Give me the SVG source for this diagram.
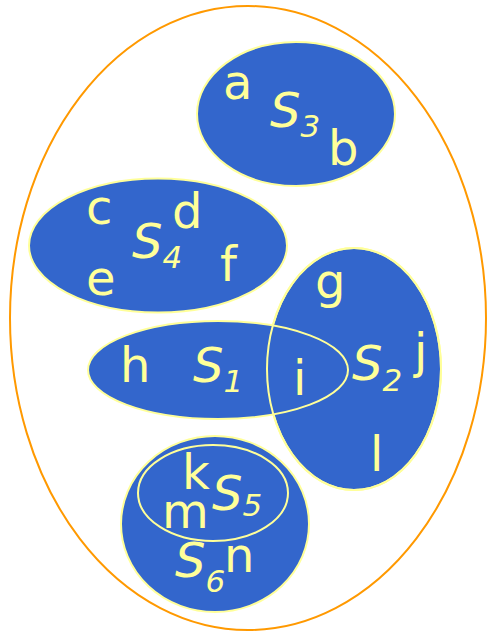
<svg xmlns="http://www.w3.org/2000/svg" xmlns:xlink="http://www.w3.org/1999/xlink" width="487" height="633" viewBox="0 0 487 633">
<style>
.set{fill:#3366cc;stroke:#ffff99;stroke-width:2}
.line{fill:none;stroke:#ffff99;stroke-width:2}
.univ{fill:none;stroke:#ff9900;stroke-width:2}
text{font-family:"DejaVu Sans",sans-serif;fill:#ffff99;font-size:48px}
.S{font-style:italic}
.sub{font-style:italic;font-size:31px}
</style>
<defs>
<ellipse id="e2" cx="354" cy="369" rx="87" ry="121"/>
</defs>
<rect width="487" height="633" fill="#ffffff"/>
<g id="universe"><ellipse class="univ" cx="248" cy="318" rx="238" ry="312"/></g>
<g id="S3">
<ellipse class="set" cx="296" cy="114" rx="99" ry="72"/>
<text x="223" y="99">a</text>
<text x="328" y="165">b</text>
<text class="S" x="270" y="127">S<tspan class="sub" dy="10">3</tspan></text>
</g>
<g id="S4">
<ellipse class="set" cx="158" cy="245.5" rx="129" ry="67"/>
<text x="86" y="224">c</text>
<text x="172" y="228">d</text>
<text x="86" y="295">e</text>
<text x="220" y="281">f</text>
<text class="S" x="132" y="258">S<tspan class="sub" dy="10">4</tspan></text>
</g>
<g id="S2">
<use xlink:href="#e2" class="set"/>
<text x="315" y="298">g</text>
<text x="414" y="368">j</text>
<text x="370" y="471">l</text>
<text class="S" x="352" y="380">S<tspan class="sub" dy="11">2</tspan></text>
</g>
<g id="S1">
<ellipse class="set" cx="218" cy="370" rx="130" ry="49"/>
<use xlink:href="#e2" class="line"/>
<text x="120" y="382">h</text>
<text x="293" y="395">i</text>
<text class="S" x="193" y="382">S<tspan class="sub" dy="10">1</tspan></text>
</g>
<g id="S6">
<ellipse class="set" cx="215" cy="524" rx="94" ry="88"/>
<text x="224" y="572">n</text>
<text class="S" x="175" y="577">S<tspan class="sub" dy="15">6</tspan></text>
</g>
<g id="S5">
<ellipse class="line" cx="213" cy="493" rx="75" ry="48"/>
<text x="182" y="489">k</text>
<text x="162" y="528">m</text>
<text class="S" x="212" y="510">S<tspan class="sub" dy="6">5</tspan></text>
</g>
<g id="connectors"></g>
</svg>
